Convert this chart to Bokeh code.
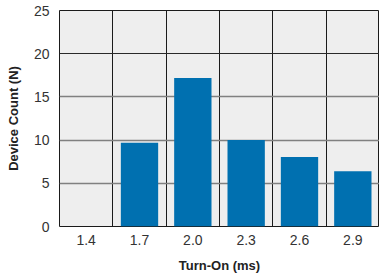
from bokeh.plotting import figure
from bokeh.models import FixedTicker, Range1d, ColumnDataSource, Grid
from bokeh.embed import file_html
from bokeh.resources import INLINE

categories = ["1.4", "1.7", "2.0", "2.3", "2.6", "2.9"]
counts = [0, 9.7, 17.2, 10.0, 8.05, 6.4]
y_ticks = [0, 5, 10, 15, 20, 25]

xs = [i + 0.5 for i in range(len(categories))]
src = ColumnDataSource(dict(x=xs, top=counts))

p = figure(width=379, height=280, output_backend="svg", toolbar_location=None,
           x_range=Range1d(0, len(categories)), y_range=Range1d(0, 25),
           min_border_left=59, min_border_right=0, min_border_top=10, min_border_bottom=54)

p.background_fill_color = "#eeeeee"
p.border_fill_color = "white"
p.outline_line_color = "#1a1a1a"
p.outline_line_width = 1

p.vbar(x="x", top="top", width=0.7, bottom=0, source=src, color="#0070b0", line_color=None)

p.xaxis.ticker = FixedTicker(ticks=xs)
p.xaxis.major_label_overrides = {x: c for x, c in zip(xs, categories)}
p.yaxis.ticker = FixedTicker(ticks=y_ticks)

p.xgrid.ticker = FixedTicker(ticks=list(range(1, len(categories))))
p.xgrid.grid_line_color = "#1a1a1a"
p.xgrid.grid_line_width = 1
p.ygrid.ticker = FixedTicker(ticks=y_ticks[1:-2])
p.ygrid.grid_line_color = "#808080"
p.ygrid.grid_line_width = 1.5
top_grid = Grid(dimension=1, ticker=FixedTicker(ticks=[y_ticks[-2]]),
                grid_line_color="#2a2a2a", grid_line_width=1.2)
p.add_layout(top_grid)

for ax in (p.xaxis, p.yaxis):
    ax.axis_line_color = None
    ax.major_tick_line_color = None
    ax.minor_tick_line_color = None
    ax.major_tick_out = 0
    ax.major_tick_in = 0
    ax.major_label_text_font = "Liberation Sans"
    ax.major_label_text_font_size = "14px"
    ax.major_label_text_color = "#333333"
    ax.axis_label_text_font = "Liberation Sans"
    ax.axis_label_text_font_size = "13px"
    ax.axis_label_text_font_style = "bold"
    ax.axis_label_text_color = "#222222"
    ax.axis_label_standoff = 10

p.xaxis.axis_label = "Turn-On (ms)"
p.yaxis.axis_label = "Device Count (N)"
p.xaxis.major_label_standoff = 8
p.yaxis.major_label_standoff = 10

open("out.html", "w").write(file_html(p, INLINE))
